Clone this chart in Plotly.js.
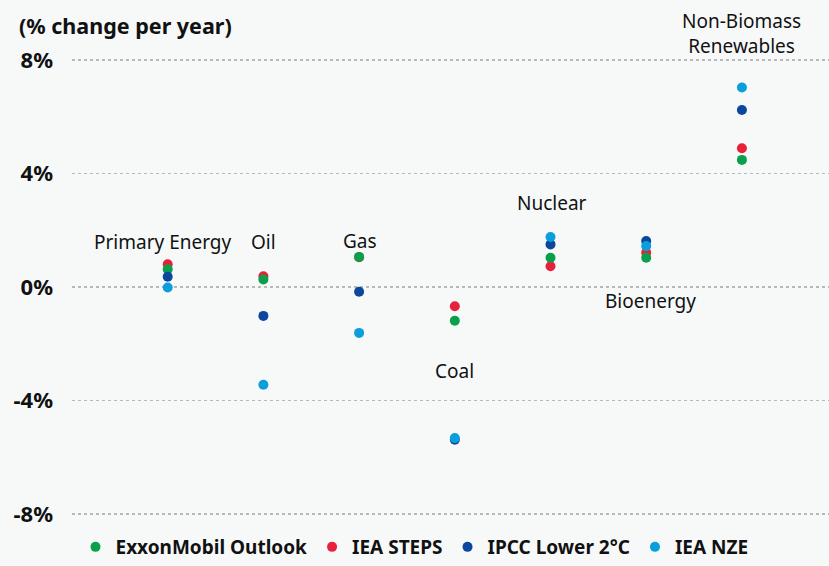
<!DOCTYPE html>
<html>
<head>
<meta charset="utf-8">
<script src="https://cdn.plot.ly/plotly-3.0.1.min.js"></script>
<style>html,body{margin:0;padding:0;background:#f7f9f9;}#chart{width:829px;height:566px;}</style>
</head>
<body>
<div id="chart"></div>
<script>
const categories = ["Primary Energy", "Oil", "Gas", "Coal", "Nuclear", "Bioenergy", "Non-Biomass Renewables"];
const categoryLabels = ["Primary Energy", "Oil", "Gas", "Coal", "Nuclear", "Bioenergy", "Non-Biomass<br>Renewables"];
const exxonOutlook = [0.62, 0.26, 1.06, -1.19, 1.03, 1.03, 4.48];
const ieaSteps     = [0.80, 0.38, 1.05, -0.68, 0.73, 1.21, 4.89];
const ipccLower2C  = [0.36, -1.02, -0.17, -5.39, 1.50, 1.62, 6.24];
const ieaNze       = [-0.02, -3.45, -1.62, -5.33, 1.76, 1.44, 7.03];
const tickVals = [8, 4, 0, -4, -8];
const tickText = ["8%", "4%", "0%", "-4%", "-8%"];

// label placement (layout, not data)
const labelY = [1.58, 1.58, 1.62, -2.96, 2.96, -0.51, 8.92];
const labelX = [-0.05, 0, 0.01, 0, 0.02, 0.04, 0];

const FONT = "Noto Sans, Open Sans, sans-serif";
const series = [
  {name: "ExxonMobil Outlook", y: exxonOutlook, color: "#0aa04b", rank: 1},
  {name: "IEA STEPS", y: ieaSteps, color: "#e8203a", rank: 2},
  {name: "IPCC Lower 2°C", y: ipccLower2C, color: "#0b479c", rank: 3},
  {name: "IEA NZE", y: ieaNze, color: "#0a9fdc", rank: 4}
];
// draw order: red underneath green, blues on top
const drawOrder = [1, 0, 2, 3];
const traces = drawOrder.map(i => ({
  type: "scatter", mode: "markers",
  x: categories.map((c, k) => k), y: series[i].y,
  name: series[i].name, legendrank: series[i].rank,
  marker: {color: series[i].color, size: 10},
  hoverinfo: "skip"
}));

const annotations = categories.map((c, k) => ({
  x: k + labelX[k], y: labelY[k], xref: "x", yref: "y",
  text: categoryLabels[k], showarrow: false,
  font: {family: FONT, size: 19, color: "#111"},
  xanchor: "center", yanchor: "middle"
}));

const layout = {
  width: 829, height: 566,
  paper_bgcolor: "#f7f9f9", plot_bgcolor: "#f7f9f9",
  margin: {l: 72, r: 0, t: 30, b: 36, autoexpand: false},
  showlegend: true,
  title: {
    text: "<b>(% change per year)</b>",
    x: 19 / 829, xanchor: "left", xref: "container",
    y: 1 - 26 / 566, yanchor: "middle", yref: "container",
    font: {family: FONT, size: 21.5, color: "#111"}
  },
  xaxis: {
    range: [-1.0, 6.91], showgrid: false, zeroline: false,
    showticklabels: false, showline: false, ticks: ""
  },
  yaxis: {
    range: [-8.57, 9.06], tickvals: tickVals, ticktext: tickText,
    showgrid: true, gridcolor: "#b8b8b8", griddash: "dot", gridwidth: 1.5,
    zeroline: false, showline: false, ticks: "",
    ticklabelstandoff: 18,
    tickfont: {family: FONT, size: 22, color: "#111", weight: "bold"}
  },
  legend: {
    orientation: "h", x: 0.5, xanchor: "center", xref: "container",
    y: 0, yanchor: "bottom", yref: "container",
    font: {family: FONT, size: 19, color: "#111", weight: "bold"},
    bgcolor: "rgba(0,0,0,0)", itemwidth: 30, tracegroupgap: 0
  },
  annotations: annotations
};

Plotly.newPlot("chart", traces, layout, {displayModeBar: false, staticPlot: true});
</script>
</body>
</html>
